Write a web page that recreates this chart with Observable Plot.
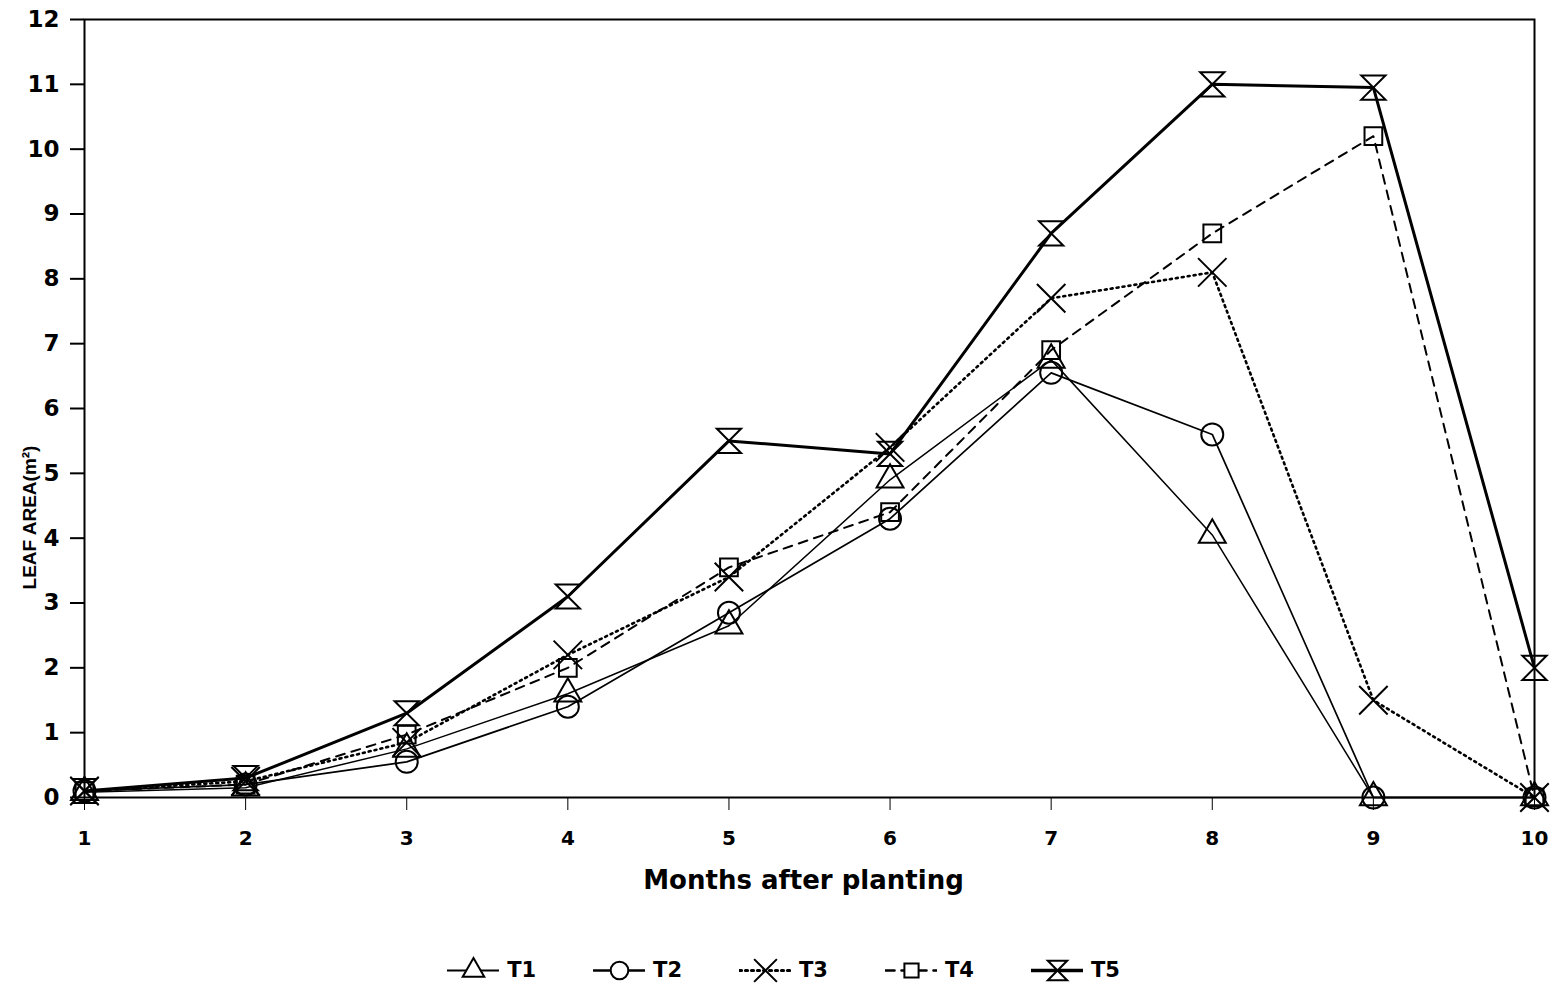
<!DOCTYPE html>
<html><head><meta charset="utf-8">
<script src="https://cdn.jsdelivr.net/npm/d3@7"></script>
<script src="https://cdn.jsdelivr.net/npm/@observablehq/plot@0.6"></script>
<style>
body{margin:0;background:#fff;font-family:"DejaVu Sans",sans-serif;}
#legend{display:flex;justify-content:center;align-items:center;gap:57px;margin-top:46px;margin-left:10px;font-weight:bold;font-size:21px;}
#legend .item{display:flex;align-items:center;gap:8px;}
</style></head><body>
<div id="chart"></div>
<div id="legend"></div>
<script>
const months = [1, 2, 3, 4, 5, 6, 7, 8, 9, 10];
const seriesNames = ["T1", "T2", "T3", "T4", "T5"];
const T1 = [0.08, 0.15, 0.75, 1.6, 2.65, 4.9, 6.75, 4.05, 0, 0];
const T2 = [0.1, 0.2, 0.55, 1.4, 2.85, 4.3, 6.55, 5.6, 0, 0];
const T3 = [0.1, 0.25, 0.85, 2.2, 3.4, 5.4, 7.7, 8.1, 1.5, 0];
const T4 = [0.1, 0.2, 0.97, 2.0, 3.55, 4.4, 6.9, 8.7, 10.2, 0];
const T5 = [0.1, 0.3, 1.3, 3.1, 5.5, 5.3, 8.7, 11.0, 10.95, 2.0];
const yTicks = [0, 1, 2, 3, 4, 5, 6, 7, 8, 9, 10, 11, 12];
const xLabel = "Months after planting";
const yLabel = "LEAF AREA(m²)";

const seriesValues = [T1, T2, T3, T4, T5];

const hourglass = {
  draw(ctx, size) {
    const s = Math.sqrt(size) * 0.62;
    ctx.moveTo(-s, -s); ctx.lineTo(s, -s); ctx.lineTo(-s, s); ctx.lineTo(s, s); ctx.closePath();
  }
};
const styles = {
  T1: {strokeWidth: 1.5, dash: null, symbol: "triangle", r: 10},
  T2: {strokeWidth: 1.7, dash: null, symbol: "circle", r: 11},
  T3: {strokeWidth: 2.6, dash: "2,4", symbol: "times", r: 13},
  T4: {strokeWidth: 2, dash: "9,7", symbol: "square", r: 10},
  T5: {strokeWidth: 3, dash: null, symbol: hourglass, r: 11}
};

const rows = seriesNames.flatMap((s, i) => months.map((m, j) => ({series: s, month: m, value: seriesValues[i][j]})));

const marks = [
  Plot.frame({stroke: "black", strokeWidth: 2}),
  Plot.axisY({ticks: yTicks, tickSize: 14, tickPadding: 11, fontSize: 23, fontWeight: "bold", fontFamily: "DejaVu Sans", strokeWidth: 2, label: null}),
  Plot.axisX({ticks: months, tickSize: 13, tickPadding: 20, fontSize: 20, fontWeight: "bold", fontFamily: "DejaVu Sans", label: null}),
  Plot.text([yLabel], {frameAnchor: "left", textAnchor: "middle", dx: -55, dy: 109, rotate: -90, fontSize: 19, fontWeight: "bold", fontFamily: "Liberation Sans Narrow, Liberation Sans, sans-serif"}),
  Plot.text([xLabel], {frameAnchor: "bottom", dx: -6, dy: 91, fontSize: 26, fontWeight: "bold", fontFamily: "DejaVu Sans"})
];
for (const s of seriesNames) {
  const st = styles[s];
  const data = rows.filter(d => d.series === s);
  marks.push(Plot.line(data, {x: "month", y: "value", stroke: "black", strokeWidth: st.strokeWidth, strokeDasharray: st.dash}));
  marks.push(Plot.dot(data, {x: "month", y: "value", stroke: "black", fill: "white", fillOpacity: 0, strokeWidth: 2, symbol: st.symbol, r: st.r}));
}

const chart = Plot.plot({
  width: 1557,
  height: 910,
  marginLeft: 84,
  marginRight: 23,
  marginTop: 19,
  marginBottom: 113,
  style: {fontFamily: "DejaVu Sans, sans-serif", color: "black", background: "white"},
  x: {domain: [1, 10]},
  y: {domain: [0, 12]},
  marks
});
document.getElementById("chart").append(chart);

// legend
const legend = document.getElementById("legend");
for (const s of seriesNames) {
  const st = styles[s];
  const item = document.createElement("div");
  item.className = "item";
  const sw = Plot.plot({
    width: 52, height: 28, margin: 0, axis: null,
    x: {domain: [0, 1], range: [0, 52]}, y: {domain: [0, 1], range: [28, 0]},
    marks: [
      Plot.line([[0, 0.5], [1, 0.5]], {stroke: "black", strokeWidth: st.strokeWidth + 0.6, strokeDasharray: st.dash}),
      Plot.dot([[0.5, 0.5]], {stroke: "black", fill: "white", strokeWidth: 2, symbol: st.symbol, r: st.r * 0.8})
    ]
  });
  item.append(sw);
  const t = document.createElement("span");
  t.textContent = s;
  item.append(t);
  legend.append(item);
}
</script>
</body></html>
